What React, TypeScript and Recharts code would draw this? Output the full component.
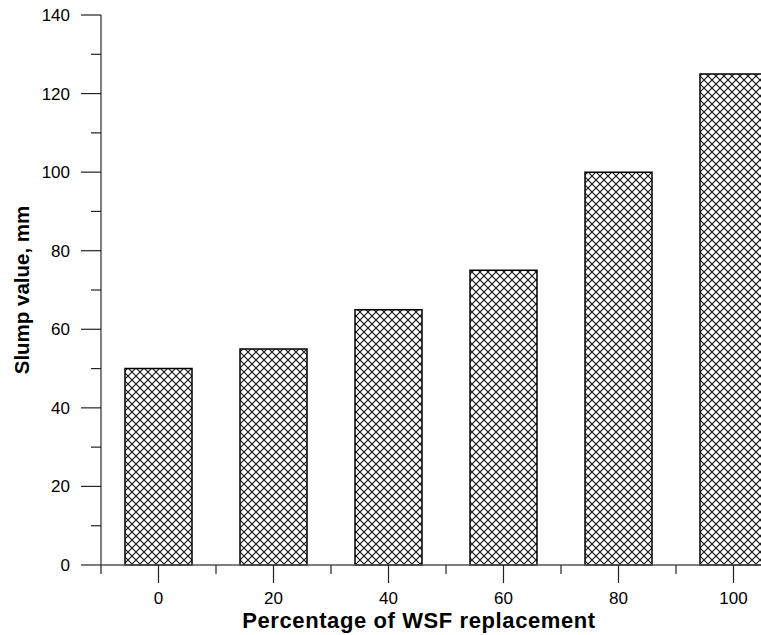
import { BarChart, Bar, XAxis, YAxis } from 'recharts';

// WSF replacement (%) vs slump (mm)
const replacement = [0, 20, 40, 60, 80, 100];
const slump = [50, 55, 65, 75, 100, 125];

const xTicks = [-10, 0, 10, 20, 30, 40, 50, 60, 70, 80, 90, 100, 110];
const yTicks = [0, 10, 20, 30, 40, 50, 60, 70, 80, 90, 100, 110, 120, 130, 140];

const data = replacement.map((pct, i) => ({ pct, slump: slump[i] }));

const FONT = '"Liberation Sans", Arial, sans-serif';

function YTick({ x, y, payload }: any) {
  const major = payload.value % 20 === 0;
  return (
    <g>
      <line x1={x} y1={y} x2={x - (major ? 20 : 10)} y2={y} stroke="#222" strokeWidth={1.2} />
      {major && (
        <text x={x - 31} y={y} dy={6} textAnchor="end" fontSize={17} fill="#000" fontFamily={FONT}>
          {payload.value}
        </text>
      )}
    </g>
  );
}

function XTick({ x, y, payload }: any) {
  const major = payload.value % 20 === 0;
  return (
    <g>
      <line x1={x} y1={y} x2={x} y2={y + (major ? 18 : 9)} stroke="#222" strokeWidth={1.2} />
      {major && (
        <text x={x} y={y + 39} textAnchor="middle" fontSize={17} fill="#000" fontFamily={FONT}>
          {payload.value}
        </text>
      )}
    </g>
  );
}

export default function App() {
  return (
    <div style={{ position: 'absolute', left: 0, top: 0, width: 761, height: 635, overflow: 'hidden', background: '#fff' }}>
      <BarChart width={801} height={635} data={data} margin={{ top: 15, right: 10, left: 0, bottom: 0 }}>
        <defs>
          <pattern id="xhatch" width="8" height="8" patternUnits="userSpaceOnUse">
            <rect width="8" height="8" fill="#fff" />
            <path d="M0,0L8,8M8,0L0,8" stroke="#111" strokeWidth={1.1} />
          </pattern>
        </defs>
        <XAxis
          type="number"
          dataKey="pct"
          domain={[-10, 110]}
          ticks={xTicks}
          interval={0}
          height={70}
          tickSize={0}
          tickMargin={0}
          tickLine={false}
          tick={<XTick />}
          axisLine={{ stroke: '#555', strokeWidth: 1.5 }}
          label={{
            content: ({ viewBox }: any) => (
              <text
                x={viewBox.x + viewBox.width / 2 - 27}
                y={viewBox.y + 63}
                textAnchor="middle"
                fontSize={22}
                fontWeight="bold"
                letterSpacing={0.6}
                fill="#000"
                fontFamily={FONT}
              >
                Percentage of WSF replacement
              </text>
            ),
          }}
        />
        <YAxis
          type="number"
          domain={[0, 140]}
          ticks={yTicks}
          interval={0}
          width={101}
          tickSize={0}
          tickMargin={0}
          tickLine={false}
          tick={<YTick />}
          axisLine={{ stroke: '#555', strokeWidth: 1.5 }}
          label={{
            value: 'Slump value, mm',
            angle: -90,
            position: 'insideLeft',
            offset: 22,
            style: { textAnchor: 'middle', fontSize: 20.5, fontWeight: 'bold', fill: '#000', fontFamily: FONT },
          }}
        />
        <Bar dataKey="slump" barSize={67} fill="url(#xhatch)" stroke="#000" strokeWidth={1.5} isAnimationActive={false} />
      </BarChart>
    </div>
  );
}
